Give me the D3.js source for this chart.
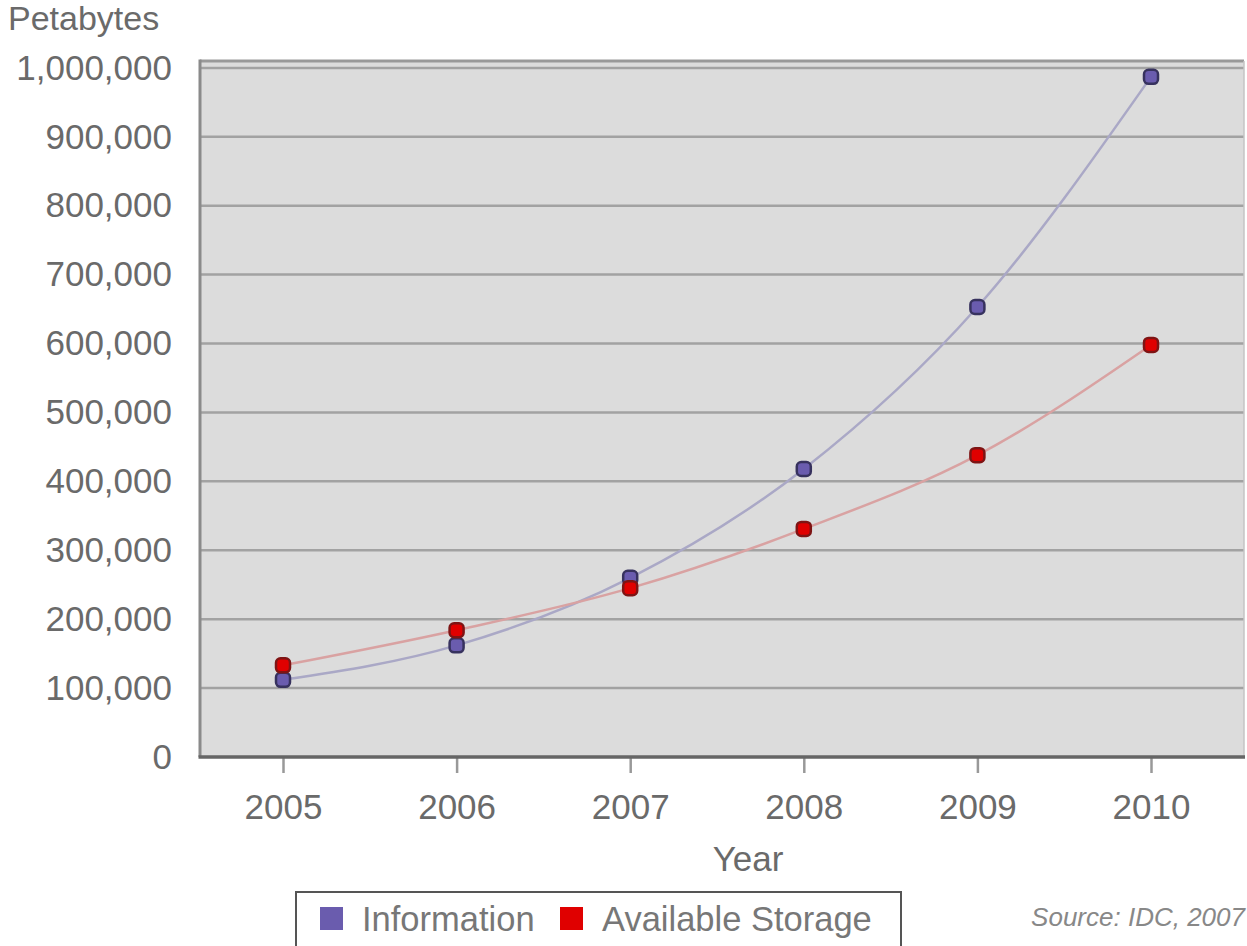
<!DOCTYPE html>
<html>
<head>
<meta charset="utf-8">
<script src="https://cdn.jsdelivr.net/npm/d3@7"></script>
<style>
  body { margin: 0; background: #fff; }
  svg { display: block; font-family: "Liberation Sans", Arial, sans-serif; }
  .axis text { fill: #6a6a6a; font-size: 35px; }
</style>
</head>
<body>
<svg id="chart" width="1247" height="946"></svg>
<script>
// data (petabytes)
const years = ["2005", "2006", "2007", "2008", "2009", "2010"];
const information = [112000, 162000, 260000, 418000, 653000, 987000];
const storage = [133000, 184000, 245000, 331000, 438000, 598000];
const yTicks = [0, 100000, 200000, 300000, 400000, 500000, 600000, 700000, 800000, 900000, 1000000];

const series = [
  { name: "Information", values: information, fill: "#6a5cae", edge: "#37325e", line: "#aaa8c6" },
  { name: "Available Storage", values: storage, fill: "#e00000", edge: "#7e1414", line: "#d9a2a2" }
];

// plot frame
const plot = { left: 200, right: 1244, top: 61, bottom: 757 };

const svg = d3.select("#chart");

const xScale = d3.scalePoint().domain(years).range([283, 1151]);
const yScale = d3.scaleLinear().domain([0, 1010000]).range([plot.bottom, plot.top]);

// background
svg.append("rect")
  .attr("x", plot.left)
  .attr("y", plot.top)
  .attr("width", plot.right - plot.left)
  .attr("height", plot.bottom - plot.top)
  .attr("fill", "#dcdcdc");

// grid lines
svg.append("g")
  .selectAll("line")
  .data(yTicks.filter((d) => d > 0))
  .enter()
  .append("line")
  .attr("x1", plot.left)
  .attr("x2", plot.right)
  .attr("y1", (d) => yScale(d))
  .attr("y2", (d) => yScale(d))
  .attr("stroke", "#a2a2a2")
  .attr("stroke-width", 2.5);

// frame edges
svg.append("line")
  .attr("x1", plot.left).attr("x2", plot.right)
  .attr("y1", plot.top).attr("y2", plot.top)
  .attr("stroke", "#999").attr("stroke-width", 3);
svg.append("line")
  .attr("x1", plot.left).attr("x2", plot.left)
  .attr("y1", plot.top - 1.5).attr("y2", plot.bottom)
  .attr("stroke", "#8a8a8a").attr("stroke-width", 3);
svg.append("line")
  .attr("x1", plot.right).attr("x2", plot.right)
  .attr("y1", plot.top).attr("y2", plot.bottom)
  .attr("stroke", "#c4c4c4").attr("stroke-width", 1.5);

// Y axis
const yAxis = svg.append("g")
  .attr("class", "axis")
  .attr("transform", `translate(${plot.left},0)`)
  .call(d3.axisLeft(yScale).tickValues(yTicks).tickFormat(d3.format(",")).tickSize(0).tickPadding(28));
yAxis.select(".domain").remove();

// X axis
const xAxis = svg.append("g")
  .attr("class", "axis")
  .attr("transform", `translate(0,${plot.bottom})`)
  .call(d3.axisBottom(xScale).tickSize(16).tickPadding(21));
xAxis.select(".domain").remove();
xAxis.selectAll(".tick line").attr("stroke", "#999").attr("stroke-width", 2.5);

// bottom axis line
svg.append("line")
  .attr("x1", plot.left - 1.5).attr("x2", plot.right + 1)
  .attr("y1", plot.bottom).attr("y2", plot.bottom)
  .attr("stroke", "#666").attr("stroke-width", 3.5);

// axis labels
svg.append("text")
  .attr("x", 8).attr("y", 30)
  .attr("fill", "#6a6a6a").attr("font-size", "34px")
  .text("Petabytes");
svg.append("text")
  .attr("x", 748).attr("y", 871)
  .attr("text-anchor", "middle")
  .attr("fill", "#6a6a6a").attr("font-size", "35px")
  .text("Year");

// lines
const valueline = d3.line()
  .x((d, i) => xScale(years[i]))
  .y((d) => yScale(d))
  .curve(d3.curveMonotoneX);

const groups = svg.append("g")
  .selectAll("g")
  .data(series)
  .enter()
  .append("g");

groups.append("path")
  .attr("d", (d) => valueline(d.values))
  .attr("fill", "none")
  .attr("stroke", (d) => d.line)
  .attr("stroke-width", 2.5);

// markers
const size = 14;
series.forEach((s, k) => {
  d3.select(groups.nodes()[k])
    .selectAll("rect")
    .data(s.values)
    .enter()
    .append("rect")
    .attr("x", (d, i) => xScale(years[i]) - size / 2)
    .attr("y", (d) => yScale(d) - size / 2)
    .attr("width", size)
    .attr("height", size)
    .attr("rx", 4.5)
    .attr("fill", s.fill)
    .attr("stroke", s.edge)
    .attr("stroke-width", 2.5);
});

// legend
const legend = svg.append("g");
legend.append("rect")
  .attr("x", 296).attr("y", 892)
  .attr("width", 605).attr("height", 70)
  .attr("fill", "#fff")
  .attr("stroke", "#555").attr("stroke-width", 2);

const legendX = [320, 560];
const legendItems = legend.selectAll("g")
  .data(series)
  .enter()
  .append("g")
  .attr("transform", (d, i) => `translate(${legendX[i]},907)`);
legendItems.append("rect")
  .attr("width", 23).attr("height", 23)
  .attr("fill", (d) => d.fill);
legendItems.append("text")
  .attr("x", 42).attr("y", 24)
  .attr("fill", "#777").attr("font-size", "34.5px")
  .text((d) => d.name);

// source note
svg.append("text")
  .attr("x", 1245).attr("y", 926)
  .attr("text-anchor", "end")
  .attr("fill", "#888").attr("font-size", "26px")
  .attr("font-style", "italic")
  .text("Source: IDC, 2007");
</script>
</body>
</html>
